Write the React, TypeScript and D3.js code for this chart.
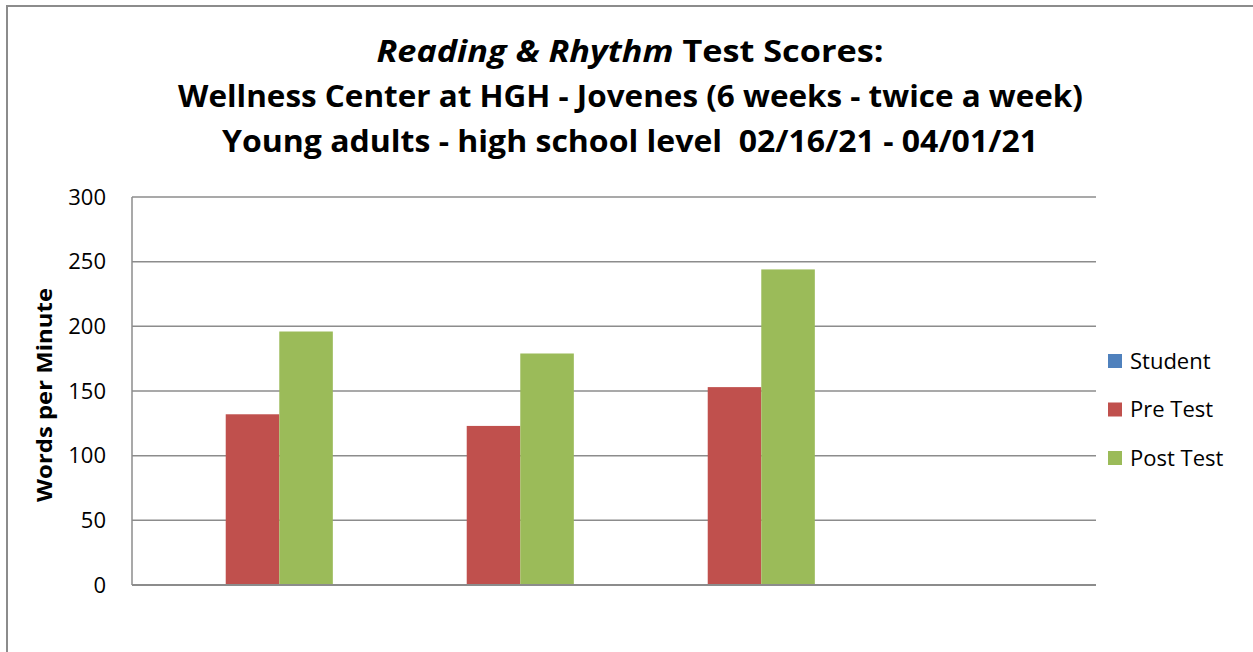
import React, { useEffect, useRef } from 'react';
import * as d3 from 'd3';

// chart data
const categories = ['1', '2', '3', '4'];
const seriesNames = ['Student', 'Pre Test', 'Post Test'];
const studentValues: (number | null)[] = [0, 0, 0, null];
const preTestValues: (number | null)[] = [132, 123, 153, null];
const postTestValues: (number | null)[] = [196, 179, 244, null];
const yTicks = [0, 50, 100, 150, 200, 250, 300];
const colors = ['#4F81BD', '#C0504D', '#9BBB59'];

const WIDTH = 1253;
const HEIGHT = 652;
const FONT = "'Open Sans', 'Noto Sans', sans-serif";

const App: React.FC = () => {
  const svgRef = useRef<SVGSVGElement>(null);

  useEffect(() => {
    const svg = d3.select(svgRef.current);
    svg.selectAll('*').remove();

    const margin = { top: 197, right: 157, bottom: 67, left: 132 };
    const chartWidth = WIDTH - margin.left - margin.right;
    const chartHeight = HEIGHT - margin.top - margin.bottom;

    // outer frame (right and bottom edges run off the picture)
    svg.append('rect')
      .attr('x', 7)
      .attr('y', 6)
      .attr('width', WIDTH + 20)
      .attr('height', HEIGHT + 20)
      .attr('fill', 'white')
      .attr('stroke', '#8c8c8c')
      .attr('stroke-width', 2);

    // title
    const title = svg.append('text')
      .attr('text-anchor', 'middle')
      .style('font-family', FONT)
      .style('font-weight', 'bold')
      .style('font-size', '30px')
      .attr('fill', 'black');
    const l1 = title.append('tspan').attr('x', 630).attr('y', 62)
      .attr('textLength', 507).attr('lengthAdjust', 'spacingAndGlyphs');
    l1.append('tspan').style('font-style', 'italic').text('Reading & Rhythm');
    l1.append('tspan').text(' Test Scores:');
    title.append('tspan').attr('x', 630.5).attr('y', 107)
      .attr('textLength', 905).attr('lengthAdjust', 'spacingAndGlyphs')
      .text('Wellness Center at HGH - Jovenes (6 weeks - twice a week)');
    title.append('tspan').attr('x', 630).attr('y', 152)
      .attr('textLength', 816).attr('lengthAdjust', 'spacingAndGlyphs')
      .text('Young adults - high school level\u00a0\u00a002/16/21 - 04/01/21');

    const g = svg.append('g')
      .attr('transform', `translate(${margin.left}, ${margin.top})`);

    const x0 = d3.scaleBand().domain(categories).range([0, chartWidth]).paddingInner(0).paddingOuter(0);
    const bandW = x0.bandwidth();
    const barW = bandW / (seriesNames.length + 1.5);
    const x1 = d3.scaleBand().domain(seriesNames)
      .range([(bandW - barW * 3) / 2, (bandW + barW * 3) / 2]);

    const y = d3.scaleLinear().domain([0, 300]).range([chartHeight, 0]);

    // grid lines
    g.append('g')
      .selectAll('line')
      .data(yTicks.filter(t => t > 0))
      .enter()
      .append('line')
      .attr('x1', 0)
      .attr('x2', chartWidth)
      .attr('y1', d => y(d))
      .attr('y2', d => y(d))
      .attr('stroke', '#8c8c8c')
      .attr('stroke-width', 1.5);

    // bars
    const series = [studentValues, preTestValues, postTestValues];
    series.forEach((vals, si) => {
      g.append('g')
        .selectAll('rect')
        .data(vals.map((v, i) => ({ cat: categories[i], v })).filter(d => d.v !== null && (d.v as number) > 0))
        .enter()
        .append('rect')
        .attr('x', d => (x0(d.cat) || 0) + (x1(seriesNames[si]) || 0))
        .attr('y', d => y(d.v as number))
        .attr('width', barW)
        .attr('height', d => chartHeight - y(d.v as number))
        .attr('fill', colors[si]);
    });

    // axes lines
    g.append('line')
      .attr('x1', 0).attr('x2', 0)
      .attr('y1', 0).attr('y2', chartHeight)
      .attr('stroke', '#8c8c8c').attr('stroke-width', 1.5);
    g.append('line')
      .attr('x1', 0).attr('x2', chartWidth)
      .attr('y1', chartHeight).attr('y2', chartHeight)
      .attr('stroke', '#8c8c8c').attr('stroke-width', 2);

    // y tick labels
    g.append('g')
      .selectAll('text')
      .data(yTicks)
      .enter()
      .append('text')
      .attr('x', -26)
      .attr('y', d => y(d))
      .attr('dy', '0.35em')
      .attr('text-anchor', 'end')
      .style('font-family', FONT)
      .style('font-size', '22px')
      .text(d => d);

    // y axis label
    svg.append('text')
      .attr('transform', 'rotate(-90)')
      .attr('x', -395)
      .attr('y', 45)
      .attr('dy', '0.35em')
      .attr('text-anchor', 'middle')
      .attr('textLength', 214)
      .attr('lengthAdjust', 'spacingAndGlyphs')
      .style('font-family', FONT)
      .style('font-weight', 'bold')
      .style('font-size', '21px')
      .text('Words per Minute');

    // legend
    const legend = svg.append('g').attr('transform', 'translate(1108, 361)');
    seriesNames.forEach((name, i) => {
      const row = legend.append('g').attr('transform', `translate(0, ${i * 48.5})`);
      row.append('rect')
        .attr('x', 0).attr('y', -7)
        .attr('width', 14).attr('height', 14)
        .attr('fill', colors[i]);
      row.append('text')
        .attr('x', 22).attr('y', 0)
        .attr('dy', '0.35em')
        .style('font-family', FONT)
        .style('font-size', '22px')
        .text(name);
    });
  }, []);

  return (
    <svg ref={svgRef} width={WIDTH} height={HEIGHT}
      style={{ position: 'absolute', left: 0, top: 0, display: 'block' }} />
  );
};

export default App;
